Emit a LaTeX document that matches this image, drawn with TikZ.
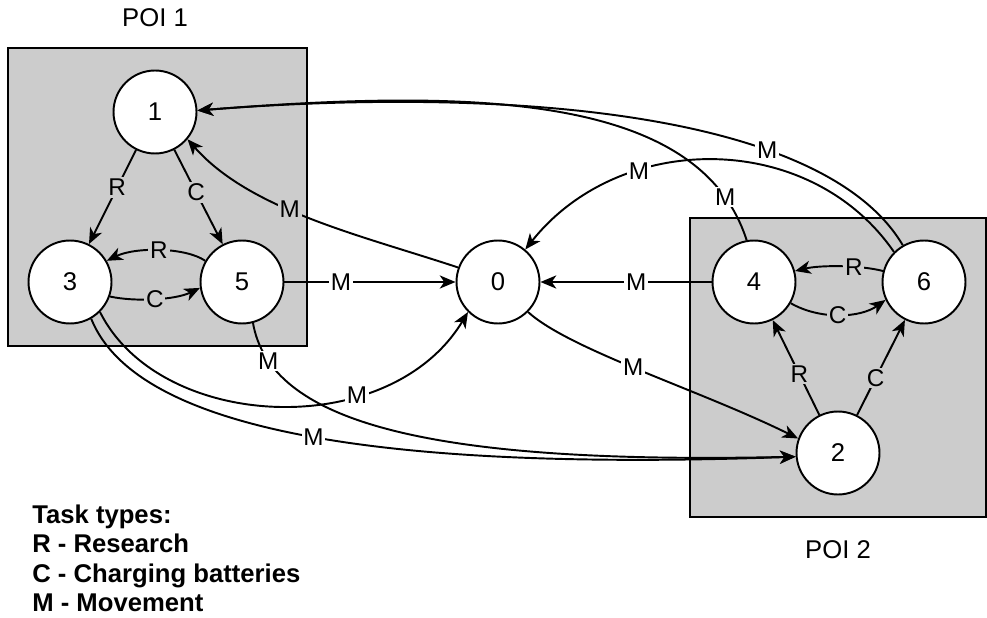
\documentclass[tikz,border=0pt]{standalone}
\usepackage{fontspec}
\setmainfont{Liberation Sans}
\usetikzlibrary{arrows.meta}
\definecolor{poigris}{HTML}{CCCCCC}
\tikzset{
  poi/.style={draw, line width=1.1pt, fill=poigris},
  titre/.style={font=\fontsize{14.6}{17}\selectfont, inner sep=0pt},
  etat/.style={circle, draw, line width=1.1pt, fill=white, minimum size=1.66cm, inner sep=0pt,
    font=\fontsize{14.6}{17}\selectfont},
  fleche/.style={line width=1.1pt, -{Stealth[length=9pt, width=7.5pt, inset=2.6pt]}},
  lbl/.style={fill=white, inner sep=1pt, font=\fontsize{13.8}{16}\selectfont},
  lblg/.style={lbl, fill=poigris},
  legende/.style={anchor=base west, inner sep=0pt, font=\fontsize{14.6}{17}\selectfont\bfseries}
}

\begin{document}
\begin{tikzpicture}[x=0.02cm, y=-0.02cm]
        \useasboundingbox (0,0) rectangle (987,618);
        % Zones POI
        \draw[poi] (8,48) rectangle (307,346);
        \draw[poi] (690,218) rectangle (986,517);
        \node[titre] (poiA) at (155,18) {POI 1};
        \node[titre] (poiB) at (838,550) {POI 2};
        % Etats
        \node[etat] (n1) at (155,112) {1};
        \node[etat] (n3) at (70,282) {3};
        \node[etat] (n5) at (242,282) {5};
        \node[etat] (n0) at (498,282) {0};
        \node[etat] (n4) at (754,282) {4};
        \node[etat] (n6) at (924,282) {6};
        \node[etat] (n2) at (838,453) {2};
        % Taches dans POI 1
        \draw[fleche] (n1) -- (n3) node[lblg, pos=0.4] {R};
        \draw[fleche] (n1) -- (n5) node[lblg, pos=0.45] {C};
        \draw[fleche] (n5.150) .. controls (185,247) and (135,247) .. (n3.30) node[lblg, pos=0.5] {R};
        \draw[fleche] (n3.-20) .. controls (135,302) and (175,300) .. (n5.188) node[lblg, pos=0.5] {C};
        % Taches dans POI 2
        \draw[fleche] (n6.165) .. controls (860,265) and (820,265) .. (n4.15) node[lblg, pos=0.35] {R};
        \draw[fleche] (n4.-30) .. controls (820,320) and (860,318) .. (n6.-155) node[lblg, pos=0.48] {C};
        \draw[fleche] (n2) -- (n4) node[lblg, pos=0.43] {R};
        \draw[fleche] (n2) -- (n6) node[lblg, pos=0.39] {C};
        % Deplacements
        \draw[fleche] (n5) -- (n0) node[lbl, pos=0.33] {M};
        \draw[fleche] (n4) -- (n0) node[lbl, pos=0.44] {M};
        \draw[fleche] (n0.160) .. controls (360,235) and (250,210) .. (n1.-40) node[lblg, pos=0.57] {M};
        \draw[fleche] (n3.-45) .. controls (160,432) and (390,442) .. (n0.-135) node[lbl, pos=0.68] {M};
        \draw[fleche] (n3.-60) .. controls (140,440) and (420,470) .. (n2.185) node[lbl, pos=0.49] {M};
        \draw[fleche] (n5.-75) .. controls (270,420) and (420,465) .. (n2.185) node[lbl, pos=0.14] {M};
        \draw[fleche] (n0.-45) .. controls (570,350) and (700,390) .. (n2.160) node[lbl, pos=0.47] {M};
        \draw[fleche] (n4.100) .. controls (700,95) and (480,88) .. (n1.2) node[lbl, pos=0.11] {M};
        \draw[fleche] (n6.120) .. controls (820,105) and (480,88) .. (n1.2) node[lbl, pos=0.3] {M};
        \draw[fleche] (n6.135) .. controls (810,130) and (620,130) .. (n0.50) node[lbl, pos=0.68] {M};
        % Legende
        \node[legende] (lg1) at (32,523) {Task types:};
        \node[legende] (lg2) at (32,552) {R - Research};
        \node[legende] (lg3) at (32,582) {C - Charging batteries};
        \node[legende] (lg4) at (32,611) {M - Movement};
    \end{tikzpicture}
\end{document}
